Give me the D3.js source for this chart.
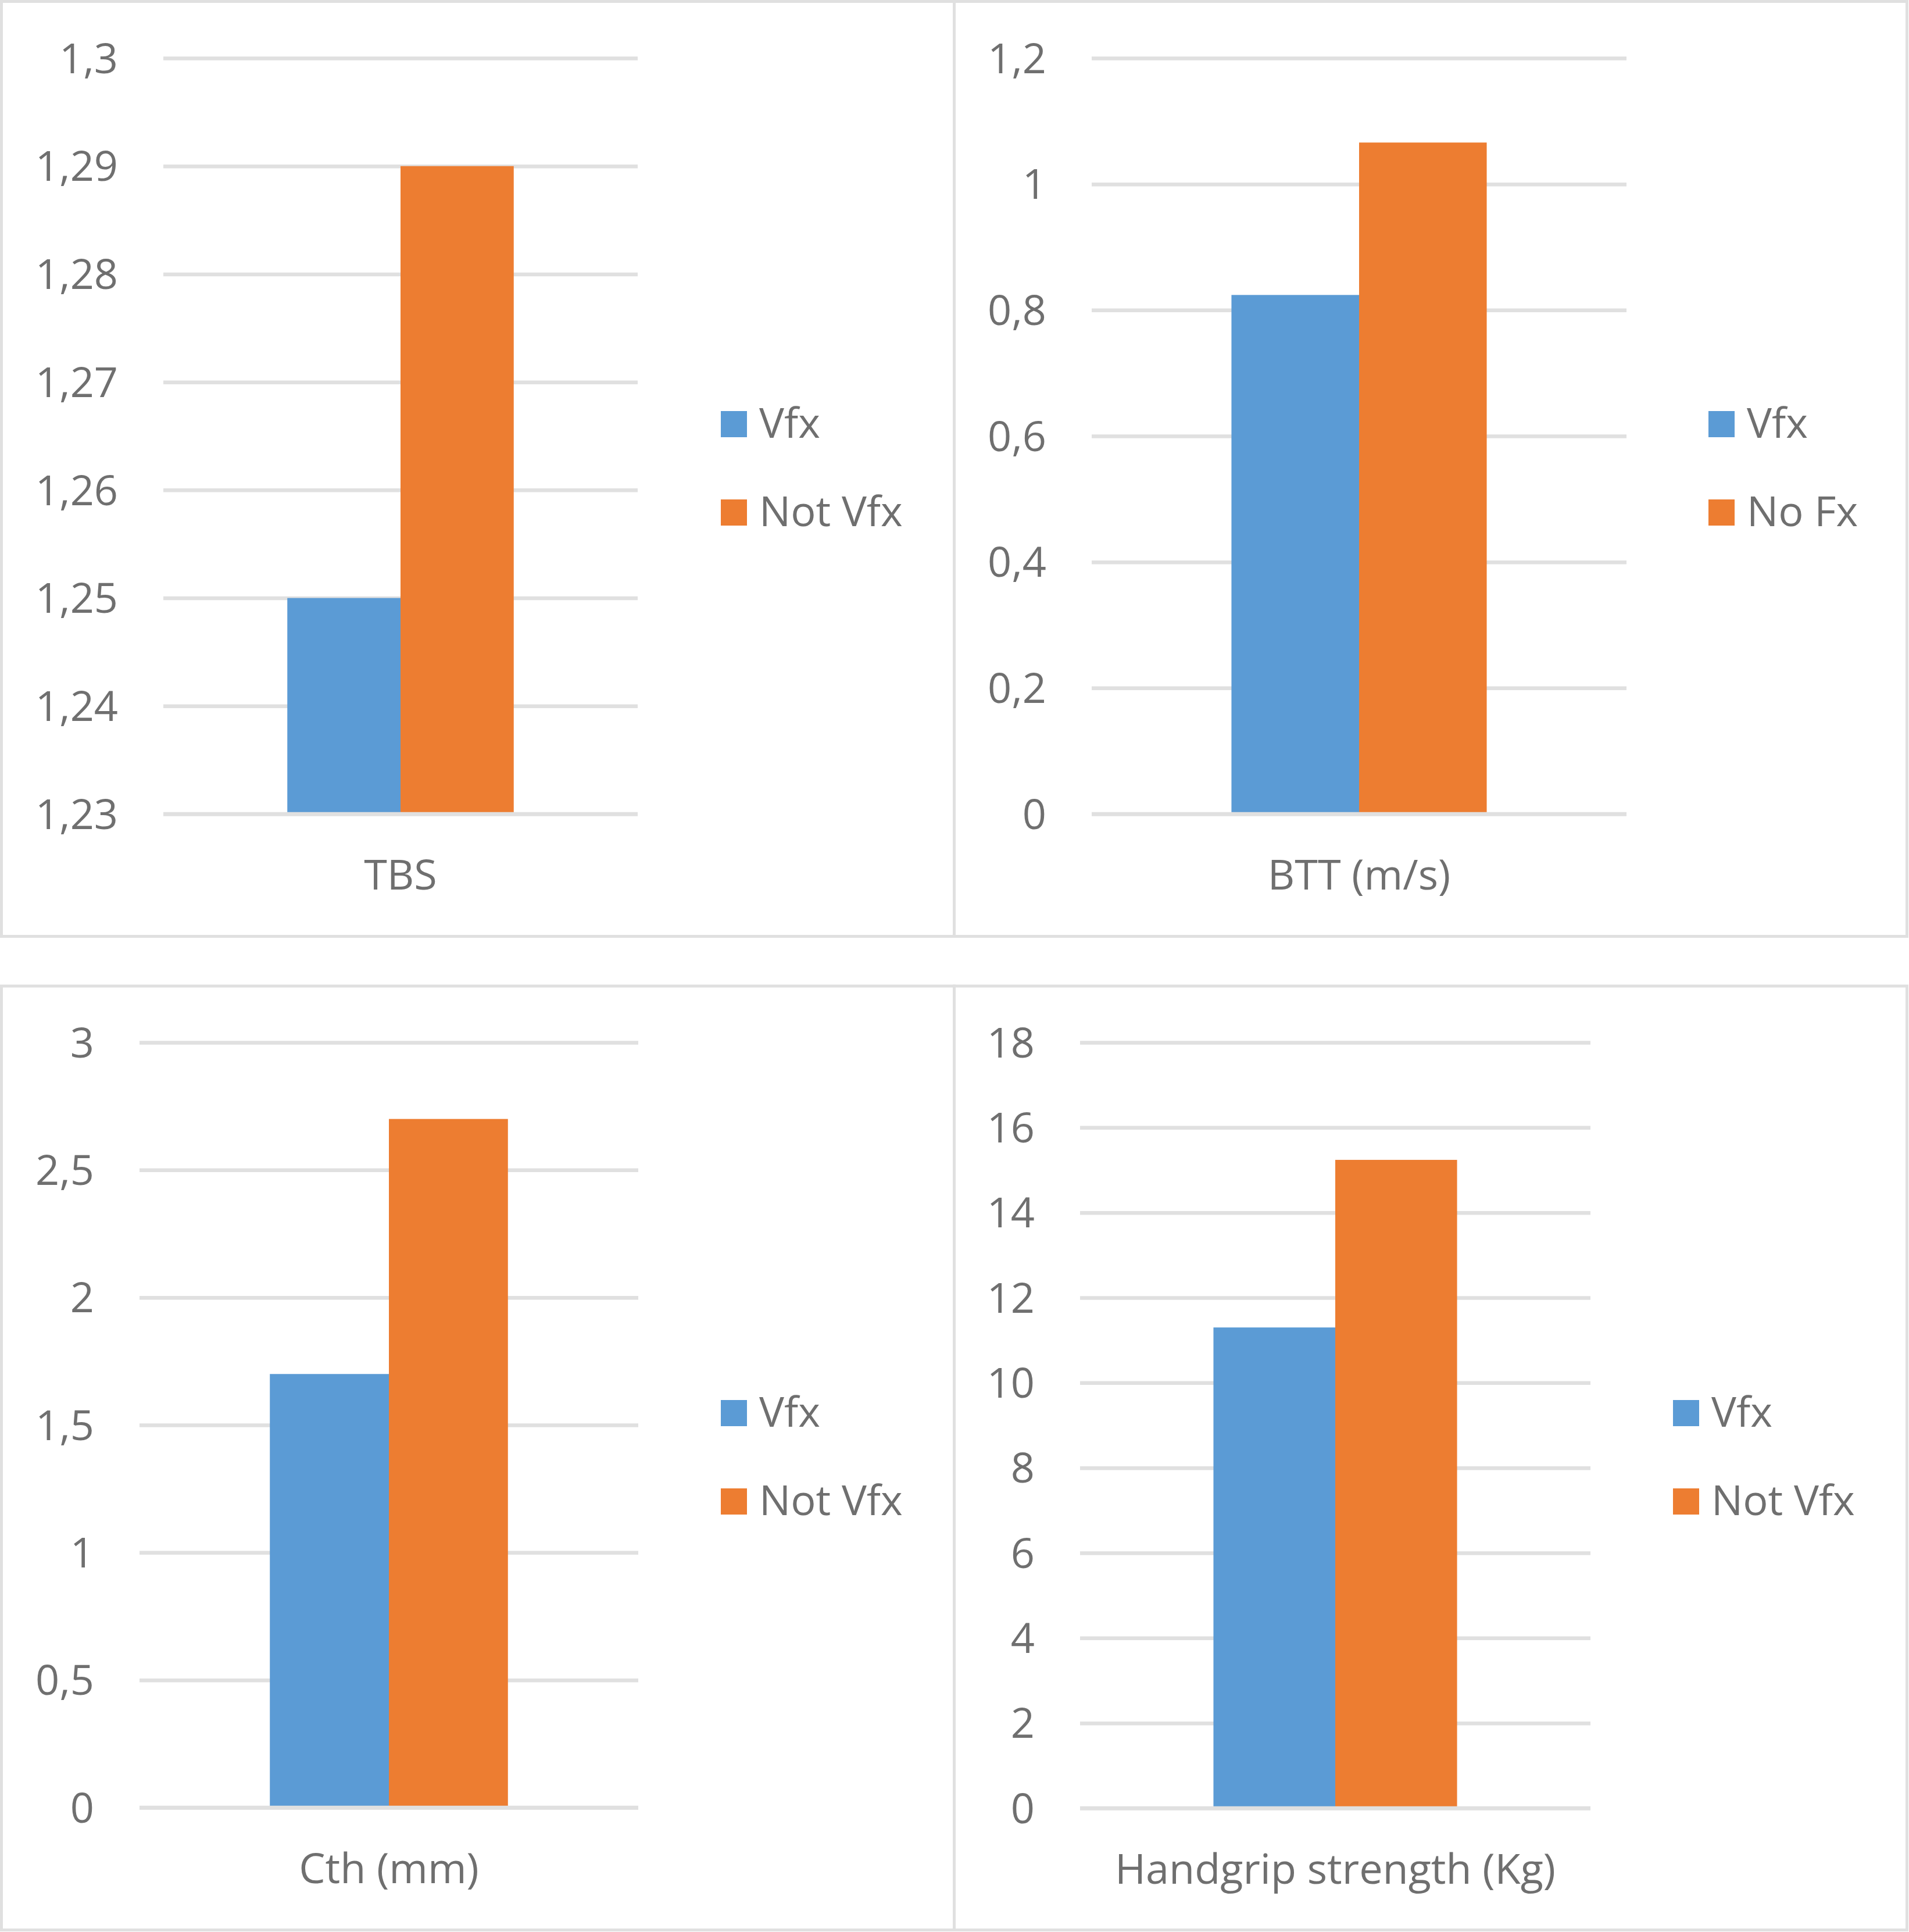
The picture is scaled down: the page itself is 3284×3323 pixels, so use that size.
<!DOCTYPE html>
<html>
<head>
<meta charset="utf-8">
<script src="https://cdn.jsdelivr.net/npm/d3@7/dist/d3.min.js"></script>
<style>
  html, body { margin: 0; padding: 0; background: #fff; }
  svg { display: block; }
  text { font-family: "Open Sans", "Noto Sans", sans-serif; fill: #6f6f6f; }
</style>
</head>
<body>
<script>
// ---------- data ----------
const categories   = ["TBS", "BTT (m/s)", "Cth (mm)", "Handgrip strength (Kg)"];
const seriesNames  = [["Vfx", "Not Vfx"], ["Vfx", "No Fx"], ["Vfx", "Not Vfx"], ["Vfx", "Not Vfx"]];
const valuesVfx    = [1.25, 0.824, 1.70, 11.3];
const valuesNotVfx = [1.29, 1.066, 2.70, 15.24];
const ticksTBS = [1.23, 1.24, 1.25, 1.26, 1.27, 1.28, 1.29, 1.3];
const ticksBTT = [0, 0.2, 0.4, 0.6, 0.8, 1, 1.2];
const ticksCth = [0, 0.5, 1, 1.5, 2, 2.5, 3];
const ticksHGS = [0, 2, 4, 6, 8, 10, 12, 14, 16, 18];
const tickSets = [ticksTBS, ticksBTT, ticksCth, ticksHGS];
const colors = ["#5B9BD5", "#ED7D31"];

// ---------- layout ----------
const W = 3284, H = 3323;
const frames = [
  {x: 2.5,    y: 2.5,  w: 1639, h: 1608},
  {x: 1641.5, y: 2.5,  w: 1639, h: 1608},
  {x: 2.5,    y: 1696, w: 1639, h: 1623.5},
  {x: 1641.5, y: 1696, w: 1639, h: 1623.5}
];
const plots = [
  {x0: 281,  x1: 1097, yTop: 100,  yBot: 1400, legX: 1240, legY: 707},
  {x0: 1878, x1: 2798, yTop: 100,  yBot: 1400, legX: 2939, legY: 707},
  {x0: 240,  x1: 1098, yTop: 1793, yBot: 3109, legX: 1240, legY: 2408},
  {x0: 1858, x1: 2736, yTop: 1793, yBot: 3110, legX: 2878, legY: 2408}
];
const FS = 72;
const gridColor = "#e0e0e0";
const fmt = v => String(+v.toFixed(4)).replace(".", ",");

const svg = d3.select("body").append("svg")
  .attr("width", W).attr("height", H).attr("viewBox", `0 0 ${W} ${H}`);

svg.append("rect").attr("width", W).attr("height", H).attr("fill", "#fff");

frames.forEach(f => {
  svg.append("rect")
    .attr("x", f.x).attr("y", f.y).attr("width", f.w).attr("height", f.h)
    .attr("fill", "#fff").attr("stroke", gridColor).attr("stroke-width", 5);
});

categories.forEach((cat, i) => {
  const p = plots[i];
  const ticks = tickSets[i];
  const g = svg.append("g");
  const y = d3.scaleLinear().domain([ticks[0], ticks[ticks.length - 1]]).range([p.yBot, p.yTop]);
  const x0 = d3.scaleBand().domain([cat]).range([p.x0, p.x1]).paddingInner(0).paddingOuter(0.5475);
  const x1 = d3.scaleBand().domain(seriesNames[i]).range([0, x0.bandwidth()]).padding(0);

  // gridlines + labels via axis
  const axis = d3.axisLeft(y).tickValues(ticks).tickFormat(fmt)
    .tickSize(-(p.x1 - p.x0)).tickPadding(78);
  const ag = g.append("g").attr("transform", `translate(${p.x0},0)`).call(axis);
  ag.select(".domain").remove();
  ag.selectAll(".tick line").attr("stroke", gridColor).attr("stroke-width", 6.5)
    .attr("x1", 0);
  ag.selectAll(".tick text").attr("font-size", FS).attr("fill", "#6f6f6f")
    .attr("font-family", '"Open Sans", sans-serif').attr("dy", "0.35em");
  ag.attr("font-size", null).attr("font-family", null);

  // bars
  const vals = [valuesVfx[i], valuesNotVfx[i]];
  g.selectAll("rect.bar").data(vals).enter().append("rect")
    .attr("class", "bar")
    .attr("x", (d, k) => x0(cat) + x1(seriesNames[i][k]))
    .attr("width", x1.bandwidth())
    .attr("y", d => y(d))
    .attr("height", d => y(ticks[0]) - y(d))
    .attr("fill", (d, k) => colors[k]);

  // category axis line on top
  g.append("line")
    .attr("x1", p.x0).attr("x2", p.x1)
    .attr("y1", y(ticks[0])).attr("y2", y(ticks[0]))
    .attr("stroke", gridColor).attr("stroke-width", 6.5);

  // category label
  g.append("text")
    .attr("x", x0(cat) + x0.bandwidth() / 2)
    .attr("y", p.yBot + 130)
    .attr("text-anchor", "middle")
    .attr("font-size", FS)
    .text(cat);

  // legend
  seriesNames[i].forEach((name, k) => {
    const ly = p.legY + k * 152;
    g.append("rect").attr("x", p.legX).attr("y", ly).attr("width", 45).attr("height", 45)
      .attr("fill", colors[k]);
    g.append("text").attr("x", p.legX + 66).attr("y", ly + 46)
      .attr("font-size", FS).text(name);
  });
});
</script>
</body>
</html>
